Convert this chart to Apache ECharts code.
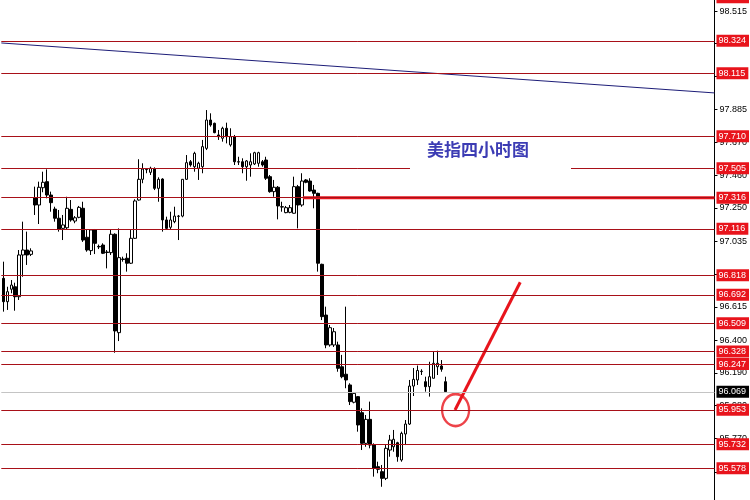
<!DOCTYPE html>
<html><head><meta charset="utf-8">
<script src="https://cdn.jsdelivr.net/npm/echarts@6/dist/echarts.min.js"></script>
<style>html,body{margin:0;padding:0;background:#fff;}#c{width:750px;height:500px;}</style>
</head><body><div id="c"></div>
<script>
// ---- data ----
const slotCount = 179;
const categories = Array.from({length: slotCount}, (_, i) => String(i + 1));
// [open, close, low, high]
const candles = [
[96.798,96.648,96.584,96.905],[96.648,96.712,96.595,96.744],[96.728,96.755,96.702,96.787],[96.744,96.680,96.590,96.770],
[96.680,96.948,96.659,96.980],[96.948,96.980,96.808,97.162],[96.980,96.948,96.884,97.098],[96.952,96.974,96.941,96.991],
[97.316,97.269,97.205,97.387],[97.269,97.383,97.147,97.419],[97.380,97.415,97.351,97.483],[97.419,97.333,97.312,97.498],
[97.333,97.284,97.226,97.355],[97.243,97.184,97.162,97.258],[97.184,97.115,97.098,97.237],[97.119,97.141,97.044,97.205],
[97.123,97.248,97.113,97.322],[97.241,97.173,97.162,97.301],[97.166,97.187,97.152,97.198],[97.190,97.254,97.184,97.263],
[97.248,97.044,97.032,97.290],[97.062,96.980,96.969,97.109],[96.976,97.109,96.948,97.113],[97.109,97.023,96.954,97.115],
[97.003,97.000,96.986,97.015],[97.012,96.959,96.954,97.023],[96.967,96.964,96.862,96.980],[96.963,97.081,96.948,97.109],
[97.081,96.460,96.320,97.087],[96.449,96.931,96.395,97.119],[96.919,96.922,96.905,96.937],[96.927,96.895,96.841,96.959],
[96.895,97.055,96.890,97.109],[97.055,97.295,97.051,97.306],[97.301,97.434,97.297,97.563],[97.434,97.500,97.409,97.537],
[97.496,97.498,97.473,97.505],[97.479,97.505,97.462,97.515],[97.500,97.376,97.365,97.511],[97.376,97.434,97.290,97.447],
[97.436,97.173,97.098,97.441],[97.173,97.119,97.109,97.194],[97.126,97.173,97.109,97.226],[97.162,97.198,97.152,97.258],
[97.196,97.198,97.044,97.205],[97.198,97.434,97.190,97.436],[97.434,97.541,97.430,97.590],[97.547,97.526,97.515,97.558],
[97.515,97.601,97.483,97.611],[97.505,97.537,97.430,97.547],[97.515,97.644,97.473,97.687],[97.633,97.815,97.622,97.879],
[97.815,97.783,97.772,97.858],[97.794,97.734,97.730,97.798],[97.719,97.708,97.687,97.751],[97.698,97.762,97.676,97.772],
[97.762,97.708,97.665,97.798],[97.655,97.708,97.644,97.762],[97.708,97.547,97.526,97.719],[97.547,97.545,97.526,97.579],
[97.547,97.515,97.473,97.569],[97.515,97.552,97.425,97.558],[97.526,97.547,97.451,97.601],[97.533,97.605,97.526,97.611],
[97.537,97.605,97.515,97.611],[97.547,97.526,97.515,97.558],[97.558,97.441,97.430,97.579],[97.451,97.355,97.348,97.462],
[97.355,97.383,97.322,97.430],[97.383,97.263,97.177,97.391],[97.258,97.256,97.226,97.290],[97.220,97.252,97.216,97.263],
[97.222,97.252,97.216,97.269],[97.216,97.387,97.214,97.451],[97.387,97.269,97.119,97.398],[97.269,97.423,97.258,97.473],
[97.430,97.415,97.409,97.436],[97.423,97.359,97.355,97.441],[97.365,97.344,97.248,97.398],[97.344,96.895,96.841,97.348],
[96.888,96.552,96.530,96.892],[96.562,96.370,96.349,96.616],[96.370,96.481,96.359,96.498],[96.370,96.455,96.357,96.479],
[96.370,96.220,96.198,96.391],[96.230,96.166,96.156,96.306],[96.182,96.145,96.092,96.616],[96.113,96.006,95.984,96.124],
[96.002,96.059,95.995,96.063],[96.038,95.856,95.813,96.042],[95.935,95.738,95.695,95.963],[95.738,95.892,95.716,95.920],
[95.892,95.727,95.706,96.006],[95.727,95.578,95.524,95.738],[95.588,95.571,95.546,95.620],[95.556,95.513,95.459,95.599],
[95.513,95.706,95.502,95.727],[95.695,95.759,95.652,95.792],[95.716,95.764,95.684,95.824],[95.742,95.652,95.620,95.748],
[95.631,95.802,95.620,95.813],[95.798,95.862,95.727,95.888],[95.862,96.106,95.856,96.145],[96.106,96.149,96.042,96.222],
[96.145,96.206,96.113,96.238],[96.199,96.201,96.177,96.214],[96.134,96.102,96.070,96.166],[96.102,96.166,96.038,96.262],
[96.156,96.252,96.156,96.327],[96.230,96.252,96.177,96.333],[96.235,96.214,96.198,96.273],[96.134,96.070,96.069,96.166]
];
const levels = [98.606, 98.324, 98.115, 97.710, 97.505, 97.316, 97.116, 96.818, 96.692, 96.509, 96.328, 96.247, 95.953, 95.732, 95.578];
const lastPrice = 96.069;
const yTicks = [98.515, 98.305, 98.095, 97.885, 97.670, 97.460, 97.250, 97.035, 96.825, 96.615, 96.400, 96.190, 95.980, 95.770, 95.555];
// annotation points in [bar index, price]
const trendLine = [[-0.826, 98.310], [178.49, 97.989]];
const thickLevel = [[75, 97.316], [178.49, 97.316]];
const arrowLine = [[113.25, 95.952], [129.65, 96.773]];
const circlePoint = [[113.4, 95.952]];
const titleText = '美指四小时图';

// ---- chart ----
const Y_MIN = 95.374, Y_MAX = 98.586;
const chart = echarts.init(document.getElementById('c'), null, {renderer: 'canvas'});
const RED = '#a81018', BRIGHT = '#e8141c';
const levelMarks = levels.map(v => {
  const inRange = v < Y_MAX;
  const item = {yAxis: inRange ? v : Y_MAX - 0.002, name: v.toFixed(3)};
  if (!inRange) {
    item.lineStyle = {color: 'rgba(255,255,255,0)'};
    item.label = {offset: [0, -Math.round((v - Y_MAX) / (Y_MAX - Y_MIN) * 500)]};
  }
  return item;
});
levelMarks.push({yAxis: lastPrice, name: lastPrice.toFixed(3), lineStyle: {color: '#c4c4c4', width: 1, type: 'solid'},
  label: {backgroundColor: '#000', color: '#fff'}});

chart.setOption({
  animation: false,
  backgroundColor: '#fff',
  title: {
    text: titleText, left: 410, top: 138, padding: [2, 42, 14, 17], backgroundColor: '#fff', z: 20,
    textStyle: {fontFamily: 'Noto Sans CJK SC', fontSize: 17, fontWeight: 'bold', color: '#3c3cb4', lineHeight: 20}
  },
  grid: {left: 1.3, right: 34, top: 0, bottom: 0, containLabel: false},
  xAxis: [
    {type: 'category', data: categories, boundaryGap: true, show: false},
    {type: 'value', min: -0.826, max: 178.49, show: false}
  ],
  yAxis: {
    type: 'value', position: 'right', min: Y_MIN, max: Y_MAX, scale: true,
    axisLine: {show: true, onZero: false, lineStyle: {color: '#000', width: 1}},
    axisTick: {show: true, customValues: yTicks, length: 3, lineStyle: {color: '#000'}},
    axisLabel: {customValues: yTicks, formatter: v => v.toFixed(3), color: '#000', fontSize: 9,
      fontFamily: 'Liberation Sans', margin: 5},
    splitLine: {show: false}
  },
  series: [
    {type: 'line', xAxisIndex: 1, data: trendLine, symbol: 'none', showSymbol: false, lineStyle: {color: '#1d1d78', width: 1}, silent: true},
    {type: 'line', xAxisIndex: 1, data: thickLevel, symbol: 'none', showSymbol: false, lineStyle: {color: BRIGHT, width: 3}, silent: true},
    {type: 'line', xAxisIndex: 1, data: arrowLine, symbol: 'none', showSymbol: false, lineStyle: {color: BRIGHT, width: 3}, silent: true},
    {type: 'scatter', xAxisIndex: 1, data: circlePoint, symbol: 'circle', symbolSize: [27, 32],
      itemStyle: {color: 'rgba(0,0,0,0)', borderColor: BRIGHT, borderWidth: 2.5}, silent: true},
    {
      type: 'candlestick', xAxisIndex: 0, data: candles, barWidth: 3,
      itemStyle: {color: '#fff', color0: '#000', borderColor: '#000', borderColor0: '#000', borderWidth: 1},
      markLine: {
        silent: true, symbol: ['none', 'none'], animation: false, precision: 3,
        lineStyle: {color: RED, width: 1, type: 'solid'},
        label: {show: true, position: 'end', distance: 2, formatter: p => p.name,
          backgroundColor: '#e8141c', color: '#fff', fontSize: 9, fontFamily: 'Liberation Sans',
          padding: [1, 3, 1, 2], lineHeight: 10},
        data: levelMarks
      }
    }
  ]
});
</script></body></html>
